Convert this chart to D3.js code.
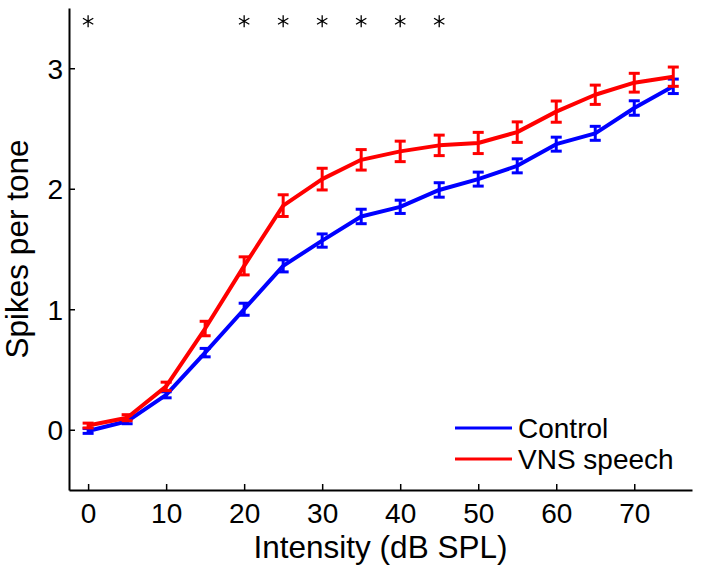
<!DOCTYPE html>
<html><head><meta charset="utf-8">
<script src="https://cdn.jsdelivr.net/npm/d3@7"></script>
<style>
html,body{margin:0;padding:0;background:#fff;}
svg{display:block;font-family:"Liberation Sans",Arial,sans-serif;}
</style></head>
<body>
<svg id="chart" width="701" height="573"></svg>
<script>
const intensities = [0,5,10,15,20,25,30,35,40,45,50,55,60,65,70,75];
const controlMean = [-0.01,0.07,0.29,0.64,1.00,1.36,1.57,1.77,1.85,1.99,2.08,2.19,2.37,2.46,2.67,2.85];
const controlErr  = [0.02,0.02,0.025,0.035,0.05,0.05,0.055,0.06,0.055,0.06,0.058,0.058,0.058,0.058,0.06,0.06];
const vnsMean = [0.035,0.10,0.36,0.84,1.36,1.86,2.08,2.24,2.31,2.36,2.38,2.47,2.64,2.78,2.88,2.93];
const vnsErr  = [0.02,0.025,0.035,0.06,0.075,0.09,0.09,0.085,0.085,0.085,0.088,0.085,0.088,0.08,0.078,0.08];
const sigIntensities = [0,20,25,30,35,40,45];
const xTicks = [0,10,20,30,40,50,60,70];
const yTicks = [0,1,2,3];
const seriesNames = ["Control","VNS speech"];
const seriesColors = ["#0000ff","#ff0000"];

(function(){
const svg = d3.select("#chart");
const mLeft = 69, mRight = 692, mTop = 8, mBottom = 490;
const x = d3.scaleLinear().domain([-2.45,77.4]).range([mLeft,mRight]);
const y = d3.scaleLinear().domain([-0.5,3.5]).range([mBottom,mTop]);

const xAxis = svg.append("g").attr("transform",`translate(0,${mBottom})`)
  .call(d3.axisBottom(x).tickValues(xTicks).tickFormat(d3.format("d")).tickSizeInner(-6).tickSizeOuter(0).tickPadding(13));
const yAxis = svg.append("g").attr("transform",`translate(${mLeft},0)`)
  .call(d3.axisLeft(y).tickValues(yTicks).tickFormat(d3.format("d")).tickSizeInner(-6).tickSizeOuter(0).tickPadding(12));
[xAxis,yAxis].forEach(g=>{
  g.select(".domain").attr("stroke","#000").attr("stroke-width",2);
  g.selectAll(".tick line").attr("stroke","#000").attr("stroke-width",1.5);
  g.selectAll(".tick text").attr("fill","#000").style("font-size","28px").style("font-family","Liberation Sans, Arial, sans-serif");
});
xAxis.selectAll(".tick text").attr("dy","0.71em");
yAxis.selectAll(".tick text").attr("x",-6).attr("dy","0.36em");

svg.append("text").attr("x",(mLeft+mRight)/2).attr("y",558).attr("text-anchor","middle")
  .style("font-size","31.5px").text("Intensity (dB SPL)");
svg.append("text").attr("transform",`translate(28,${(mTop+mBottom)/2}) rotate(-90)`).attr("text-anchor","middle")
  .style("font-size","31.5px").text("Spikes per tone");

const line = d3.line().x(d=>x(d[0])).y(d=>y(d[1]));
const series = [
  {mean:controlMean, err:controlErr, color:seriesColors[0]},
  {mean:vnsMean, err:vnsErr, color:seriesColors[1]}
];
series.forEach(s=>{
  const pts = intensities.map((v,i)=>[v,s.mean[i],s.err[i]]);
  svg.append("path").datum(pts).attr("d",line).attr("fill","none")
    .attr("stroke",s.color).attr("stroke-width",4).attr("stroke-linejoin","round");
  const eb = svg.append("g").attr("stroke",s.color).attr("stroke-width",3);
  pts.forEach(p=>{
    const cx = x(p[0]), y1 = y(p[1]-p[2]), y2 = y(p[1]+p[2]);
    eb.append("line").attr("x1",cx).attr("x2",cx).attr("y1",y1).attr("y2",y2);
    eb.append("line").attr("x1",cx-5.5).attr("x2",cx+5.5).attr("y1",y1).attr("y2",y1);
    eb.append("line").attr("x1",cx-5.5).attr("x2",cx+5.5).attr("y1",y2).attr("y2",y2);
  });
});

svg.append("g").selectAll("path").data(sigIntensities).join("path")
  .attr("transform",d=>`translate(${x(d)},${y(3.39)})`)
  .attr("d",d3.symbol().type(d3.symbolAsterisk).size(100))
  .attr("fill","none").attr("stroke","#000").attr("stroke-width",1.3);

const lg = svg.append("g");
seriesNames.forEach((n,i)=>{
  const ly = 428 + i*31;
  lg.append("line").attr("x1",455).attr("x2",512).attr("y1",ly).attr("y2",ly)
    .attr("stroke",seriesColors[i]).attr("stroke-width",3);
  lg.append("text").attr("x",518).attr("y",ly).attr("dy","0.36em")
    .style("font-size","28px").text(n);
});
})();
</script>
</body></html>
